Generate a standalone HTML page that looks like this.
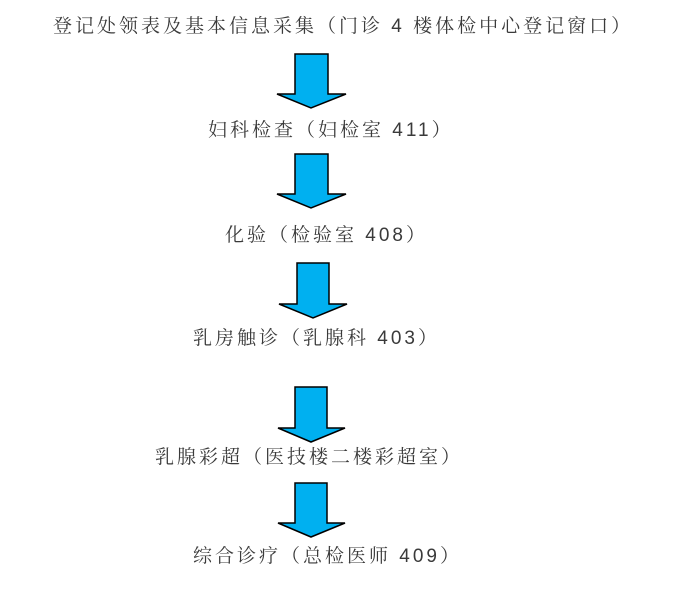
<!DOCTYPE html>
<html><head><meta charset="utf-8"><style>
body{margin:0;width:681px;height:595px;background:#fff;position:relative;overflow:hidden}
.t{position:absolute;white-space:nowrap;font-family:"Liberation Sans","Noto Serif CJK SC",serif;font-size:19px;line-height:24px;letter-spacing:3px;color:#3a3a3a}
svg{position:absolute;left:0;top:0}
</style></head><body>
<svg width="681" height="595">
<g fill="#00b0f0" stroke="#000" stroke-width="1.5" stroke-linejoin="miter">
<polygon points="295,54 328,54 328,94 346,94 311,108 277,94 295,94"/>
<polygon points="295,154 328,154 328,194 346,194 311,208 277,194 295,194"/>
<polygon points="297,263 329,263 329,304 347,304 313,318 279,304 297,304"/>
<polygon points="295,387 327,387 327,428 345,428 311,442 278,428 295,428"/>
<polygon points="295,483 327,483 327,523 345,523 311,537 278,523 295,523"/>
</g>
</svg>
<div class="t" style="left:53px;top:15px">登记处领表及基本信息采集（门诊 4 楼体检中心登记窗口）</div>
<div class="t" style="left:208px;top:119px">妇科检查（妇检室 411）</div>
<div class="t" style="left:225px;top:224px">化验（检验室 408）</div>
<div class="t" style="left:193px;top:327px">乳房触诊（乳腺科 403）</div>
<div class="t" style="left:155px;top:446px">乳腺彩超（医技楼二楼彩超室）</div>
<div class="t" style="left:193px;top:545px">综合诊疗（总检医师 409）</div>
</body></html>
